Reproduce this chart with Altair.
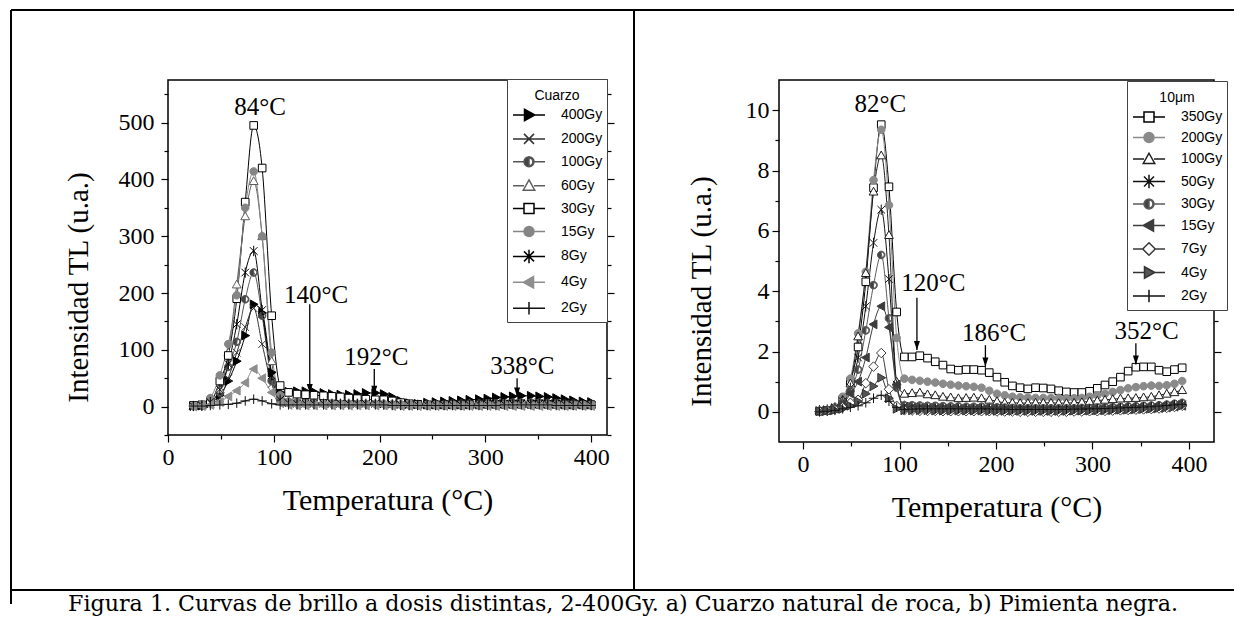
import altair as alt
import pandas as pd

SERIF = "Liberation Serif"
SANS = "Liberation Sans"
CAPFONT = "DejaVu Serif"

# ---------------- panel a) Cuarzo ----------------
T_left = [24, 32, 40, 49, 57, 65, 73, 81, 89, 98, 106, 114, 122, 130, 138, 147, 155, 163, 171, 179,
          187, 196, 204, 212, 220, 228, 236, 245, 253, 261, 269, 277, 285, 294, 302, 310, 318, 326,
          334, 343, 351, 359, 367, 375, 383, 392, 400]
series_left = ["400Gy", "200Gy", "100Gy", "60Gy", "30Gy", "15Gy", "8Gy", "4Gy", "2Gy"]
q400 = [1, 2, 6, 20, 45, 80, 125, 180, 165, 60, 25, 26, 27, 27, 26, 24, 22, 21, 21, 22,
        24, 24, 22, 17, 10, 6, 5, 7, 8, 9, 10, 11, 12, 13, 14, 16, 17, 18, 19, 19,
        18, 17, 15, 13, 11, 9, 8]
q200 = [1, 2, 5, 15, 50, 95, 140, 173, 110, 40, 12, 8, 7, 7, 6, 6, 6, 6, 6, 6,
        6, 6, 5, 5, 4, 4, 4, 4, 4, 4, 4, 5, 5, 5, 5, 6, 6, 6, 7, 7,
        7, 6, 6, 5, 5, 4, 4]
q100 = [1, 2, 6, 25, 70, 114, 189, 236, 160, 45, 12, 8, 7, 7, 7, 6, 6, 6, 6, 6,
        7, 7, 6, 5, 4, 4, 4, 4, 4, 4, 5, 5, 5, 5, 6, 6, 6, 7, 7, 7,
        7, 6, 6, 5, 5, 4, 4]
q60 = [1, 3, 8, 30, 95, 215, 335, 397, 300, 80, 20, 10, 8, 8, 7, 7, 7, 7, 7, 7,
       7, 7, 6, 5, 4, 4, 4, 4, 4, 4, 4, 4, 5, 5, 5, 5, 5, 6, 6, 6,
       6, 6, 5, 5, 4, 4, 4]
q30 = [2, 3, 8, 45, 90, 190, 360, 495, 420, 160, 37, 25, 22, 21, 20, 19, 18, 17, 15, 14,
       13, 12, 12, 10, 7, 5, 4, 3, 3, 3, 3, 3, 3, 3, 4, 4, 4, 4, 4, 4,
       4, 4, 4, 3, 3, 3, 3]
q15 = [1, 4, 15, 55, 110, 196, 350, 414, 300, 95, 20, 8, 6, 5, 5, 5, 5, 5, 5, 5,
       5, 5, 5, 4, 4, 4, 3, 3, 3, 3, 3, 3, 3, 3, 4, 4, 4, 4, 4, 4,
       4, 4, 4, 3, 3, 3, 3]
q8 = [1, 2, 8, 30, 75, 145, 236, 274, 170, 55, 12, 6, 5, 5, 5, 5, 5, 5, 5, 5,
      5, 5, 4, 4, 3, 3, 3, 3, 3, 3, 3, 3, 3, 4, 4, 4, 4, 5, 5, 5,
      5, 4, 4, 4, 3, 3, 3]
q4 = [0, 1, 3, 8, 18, 28, 42, 66, 50, 25, 6, 3, 2, 2, 2, 2, 2, 2, 2, 2,
      2, 2, 2, 1, 1, 1, 1, 1, 1, 1, 1, 1, 1, 1, 1, 1, 1, 1, 1, 1,
      1, 1, 1, 1, 1, 1, 1]
q2 = [1, 1, 2, 3, 4, 6, 10, 13, 10, 5, 3, 3, 3, 3, 3, 3, 3, 3, 3, 3,
      3, 3, 3, 2, 2, 2, 2, 2, 2, 2, 2, 2, 2, 2, 2, 2, 3, 3, 3, 3,
      3, 3, 2, 2, 2, 2, 2]
values_left = [q400, q200, q100, q60, q30, q15, q8, q4, q2]

ann_left_text = ["84°C", "140°C", "192°C", "338°C"]
ann_left_T = [87, 140, 197, 335]
ann_left_V = [527, 197, 88, 72]
arr_left_T = [134, 195, 330]
arr_left_from = [180, 66, 50]
arr_left_to = [24, 21, 18]

# ---------------- panel b) Pimienta negra ----------------
T_right = [17, 25, 33, 41, 49, 57, 65, 73, 81, 89, 97, 105, 113, 121, 129, 137, 145, 153, 161, 169,
           177, 185, 193, 201, 209, 217, 225, 233, 241, 249, 257, 265, 273, 281, 289, 297, 305, 313,
           321, 329, 337, 345, 353, 361, 369, 377, 385, 393]
series_right = ["350Gy", "200Gy", "100Gy", "50Gy", "30Gy", "15Gy", "7Gy", "4Gy", "2Gy"]
p350 = [0.02, 0.05, 0.12, 0.4, 1.0, 2.15, 4.31, 7.43, 9.52, 7.46, 3.31, 1.82, 1.82, 1.86, 1.78, 1.66,
        1.55, 1.42, 1.38, 1.40, 1.40, 1.38, 1.30, 1.15, 0.98, 0.86, 0.80, 0.76, 0.80, 0.79, 0.76, 0.70,
        0.66, 0.64, 0.64, 0.68, 0.78, 0.89, 1.00, 1.15, 1.35, 1.48, 1.49, 1.49, 1.38, 1.33, 1.40, 1.46]
p200 = [0.02, 0.05, 0.15, 0.5, 1.1, 2.6, 4.64, 7.68, 9.35, 6.85, 2.45, 1.10, 1.06, 1.03, 1.00, 0.97,
        0.93, 0.90, 0.87, 0.85, 0.83, 0.80, 0.70, 0.60, 0.55, 0.50, 0.48, 0.47, 0.46, 0.46, 0.46, 0.46,
        0.45, 0.45, 0.46, 0.50, 0.55, 0.60, 0.66, 0.72, 0.78, 0.82, 0.85, 0.87, 0.86, 0.88, 0.93, 1.02]
p100 = [0.05, 0.05, 0.1, 0.4, 0.94, 2.5, 4.6, 7.3, 8.5, 5.86, 1.0, 0.60, 0.62, 0.64, 0.58, 0.55,
        0.50, 0.48, 0.45, 0.46, 0.47, 0.45, 0.40, 0.35, 0.30, 0.30, 0.29, 0.29, 0.30, 0.30, 0.30, 0.29,
        0.29, 0.30, 0.32, 0.35, 0.37, 0.40, 0.42, 0.44, 0.45, 0.46, 0.48, 0.50, 0.55, 0.60, 0.65, 0.72]
p50 = [0.05, 0.08, 0.15, 0.35, 0.8, 1.8, 3.5, 5.6, 6.7, 4.4, 0.9, 0.20, 0.18, 0.17, 0.16, 0.15,
       0.14, 0.13, 0.12, 0.12, 0.12, 0.11, 0.10, 0.09, 0.08, 0.07, 0.06, 0.06, 0.06, 0.06, 0.06, 0.06,
       0.06, 0.07, 0.07, 0.08, 0.08, 0.09, 0.10, 0.10, 0.11, 0.12, 0.13, 0.14, 0.16, 0.18, 0.21, 0.25]
p30 = [0.03, 0.05, 0.1, 0.3, 0.7, 1.4, 2.7, 4.2, 5.2, 3.1, 0.8, 0.22, 0.22, 0.21, 0.20, 0.20,
       0.19, 0.18, 0.18, 0.17, 0.17, 0.17, 0.16, 0.15, 0.14, 0.13, 0.12, 0.12, 0.12, 0.12, 0.12, 0.12,
       0.12, 0.12, 0.13, 0.13, 0.14, 0.15, 0.16, 0.17, 0.18, 0.19, 0.20, 0.21, 0.22, 0.24, 0.27, 0.30]
p15 = [0.02, 0.05, 0.1, 0.25, 0.6, 1.0, 1.8, 2.9, 3.5, 2.8, 0.9, 0.15, 0.12, 0.11, 0.10, 0.10,
       0.09, 0.09, 0.08, 0.08, 0.08, 0.08, 0.07, 0.06, 0.05, 0.05, 0.05, 0.04, 0.04, 0.04, 0.04, 0.04,
       0.04, 0.05, 0.05, 0.05, 0.06, 0.06, 0.07, 0.07, 0.08, 0.09, 0.10, 0.11, 0.12, 0.14, 0.17, 0.20]
p7 = [0.02, 0.04, 0.08, 0.15, 0.3, 0.4, 0.95, 1.5, 1.95, 0.75, 0.2, 0.05, 0.04, 0.03, 0.03, 0.03,
      0.02, 0.02, 0.02, 0.02, 0.02, 0.02, 0.02, 0.01, 0.01, 0.01, 0.0, 0.0, 0.0, 0.0, 0.0, 0.0,
      0.0, 0.01, 0.01, 0.02, 0.02, 0.03, 0.04, 0.05, 0.06, 0.07, 0.08, 0.09, 0.11, 0.13, 0.16, 0.20]
p4 = [0.02, 0.04, 0.06, 0.1, 0.2, 0.35, 0.6, 0.85, 1.13, 0.45, 0.1, 0.05, 0.05, 0.05, 0.05, 0.04,
      0.04, 0.04, 0.04, 0.04, 0.04, 0.04, 0.03, 0.03, 0.03, 0.03, 0.03, 0.03, 0.03, 0.03, 0.03, 0.03,
      0.03, 0.04, 0.04, 0.04, 0.05, 0.05, 0.06, 0.07, 0.08, 0.09, 0.10, 0.11, 0.13, 0.15, 0.18, 0.21]
p2 = [0.0, 0.02, 0.05, 0.1, 0.15, 0.2, 0.3, 0.45, 0.55, 0.35, 0.15, 0.08, 0.09, 0.10, 0.10, 0.10,
      0.10, 0.10, 0.10, 0.10, 0.10, 0.10, 0.10, 0.09, 0.09, 0.08, 0.08, 0.08, 0.08, 0.08, 0.08, 0.08,
      0.08, 0.09, 0.09, 0.10, 0.10, 0.11, 0.12, 0.13, 0.14, 0.15, 0.16, 0.17, 0.19, 0.21, 0.23, 0.25]
values_right = [p350, p200, p100, p50, p30, p15, p7, p4, p2]

ann_right_text = ["82°C", "120°C", "186°C", "352°C"]
ann_right_T = [80, 135, 198, 356]
ann_right_V = [10.2, 4.28, 2.6, 2.69]
arr_right_T = [118, 189, 345]
arr_right_from = [3.78, 2.21, 2.27]
arr_right_to = [2.05, 1.5, 1.57]

caption = "Figura 1. Curvas de brillo a dosis distintas, 2-400Gy.  a) Cuarzo natural de roca, b) Pimienta negra."

# ---------------- marker shapes (styles) ----------------
SQ = "M-1,-1L1,-1L1,1L-1,1Z"
CIR = "M1,0A1,1,0,1,1,-1,0A1,1,0,1,1,1,0Z"
TUP = "M0,-1.15L1.15,0.9L-1.15,0.9Z"
TR = "M1.15,0L-0.9,-1.15L-0.9,1.15Z"
TL = "M-1.15,0L0.9,-1.15L0.9,1.15Z"
DIA = "M0,-1.25L1.25,0L0,1.25L-1.25,0Z"
CRS = "M-1,-1L1,1M-1,1L1,-1"
AST = "M-1,-1L1,1M-1,1L1,-1M0,-1.35L0,1.35"
PLS = "M-1.25,0L1.25,0M0,-1.25L0,1.25"
HALF = "M0,-1A1,1,0,0,0,0,1ZM0,-1A1,1,0,0,1,0,1L0,0.78A0.78,0.78,0,0,0,0,-0.78Z"

GAP = "M-3.2,0L-1,0M1,0L3.2,0"
THRU = "M-3.2,0L3.2,0"


def legend_path(p):
    if p in (CRS, AST, PLS):
        return THRU + p
    return GAP + p


shapes_left = [TR, CRS, HALF, TUP, SQ, CIR, AST, TL, PLS]
strokes_left = ["#000000", "#333333", "#555555", "#5e5e5e", "#000000", "#858585", "#000000", "#8e8e8e", "#111111"]
fills_left = ["#000000", "#333333", "#444444", "#ffffff", "#ffffff", "#858585", "#000000", "#8e8e8e", "#111111"]

shapes_right = [SQ, CIR, TUP, AST, HALF, TL, DIA, TR, PLS]
strokes_right = ["#000000", "#8a8a8a", "#1e1e1e", "#111111", "#5a5a5a", "#3c3c3c", "#3a3a3a", "#333333", "#111111"]
fills_right = ["#ffffff", "#8a8a8a", "#ffffff", "#111111", "#444444", "#3c3c3c", "#ffffff", "#555555", "#111111"]


def long_df(T, names, values):
    rows = []
    for n, vals in zip(names, values):
        for t, v in zip(T, vals):
            rows.append({"T": t, "V": v, "series": n})
    return pd.DataFrame(rows)


def cond(test, a, b):
    return {"condition": {"test": test, "value": a}, "value": b}


def panel(T, names, values, shapes, strokes, fills, ltitle, lx, ly, lrow,
          xdom, ydom, xvals, yvals, xmaj, ymaj, w, h,
          at, aT, aV, rT, rfrom, rto, ylabpad, ytx, yty, xty):
    df = long_df(T, names, values)
    xs = alt.Scale(domain=xdom, nice=False, zero=False)
    ys = alt.Scale(domain=ydom, nice=False, zero=False)
    xaxis = alt.Axis(values=xvals, title="Temperatura (°C)", grid=False, domain=False,
                     labelExpr=f"datum.value % {xmaj} === 0 ? datum.label : ''",
                     tickSize=cond(f"datum.value % {xmaj} === 0", 7, 4),
                     labelPadding=3, labelFlush=False,
                     titleFontSize=30, titleBaseline="middle", titleY=xty)
    yaxis = alt.Axis(values=yvals, title="Intensidad TL (u.a.)", grid=False, domain=False,
                     labelExpr=f"datum.value % {ymaj} === 0 ? datum.label : ''",
                     tickSize=cond(f"datum.value % {ymaj} === 0", 7, 4),
                     labelPadding=ylabpad, labelFlush=False,
                     titleFontSize=29, titleBaseline="middle", titleX=ytx, titleY=yty)
    yaxis_r = alt.Axis(values=yvals, orient="right", title="", labels=False, grid=False, domain=False,
                       tickSize=cond(f"datum.value % {ymaj} === 0", 7, 4))

    base = alt.Chart(df)
    sc_stroke = alt.Scale(domain=names, range=strokes)
    sc_fill = alt.Scale(domain=names, range=fills)

    lines = base.mark_line(interpolate="monotone", strokeWidth=1).encode(
        x=alt.X("T:Q", scale=xs, axis=xaxis),
        y=alt.Y("V:Q", scale=ys, axis=yaxis),
        stroke=alt.Stroke("series:N", scale=sc_stroke, legend=None),
        detail="series:N",
    )
    pts = base.mark_point(opacity=1, fillOpacity=1, size=58, strokeWidth=1).encode(
        x=alt.X("T:Q", scale=xs, axis=None),
        y=alt.Y("V:Q", scale=ys, axis=None),
        shape=alt.Shape("series:N", scale=alt.Scale(domain=names, range=shapes), legend=None),
        stroke=alt.Stroke("series:N", scale=sc_stroke, legend=None),
        fill=alt.Fill("series:N", scale=sc_fill, legend=None),
    )
    leg = alt.Legend(title=[" ", ltitle], orient="none", legendX=lx, legendY=ly, direction="vertical",
                     strokeColor="#444444", fillColor="white", padding=4, cornerRadius=0,
                     titleFont=SANS, titleFontSize=14, titleFontWeight="normal", titleColor="black",
                     titleAnchor="middle", titlePadding=5, titleLineHeight=6,
                     labelFont=SANS, labelFontSize=14, labelColor="black",
                     labelOffset=25, symbolOffset=11, rowPadding=lrow,
                     labelExpr="datum.label + '\u00a0'")
    legend_layer = base.transform_filter("false").mark_point(opacity=1, fillOpacity=1, size=100, strokeWidth=1).encode(
        shape=alt.Shape("series:N", scale=alt.Scale(domain=names, range=[legend_path(s) for s in shapes]), legend=leg),
        stroke=alt.Stroke("series:N", scale=sc_stroke, legend=leg),
        fill=alt.Fill("series:N", scale=sc_fill, legend=leg),
    )

    adf = pd.DataFrame({"label": at, "T": aT, "V": aV})
    texts = alt.Chart(adf).mark_text(font=SERIF, fontSize=25, color="black", baseline="middle", align="center").encode(
        x=alt.X("T:Q", scale=xs, axis=None), y=alt.Y("V:Q", scale=ys, axis=None), text="label:N")
    rdf = pd.DataFrame({"T": rT, "y1": rfrom, "y2": rto})
    rules = alt.Chart(rdf).mark_rule(color="black", strokeWidth=1.3).encode(
        x=alt.X("T:Q", scale=xs, axis=None),
        y=alt.Y("y1:Q", scale=ys, axis=yaxis_r), y2="y2:Q")
    heads = alt.Chart(rdf).mark_point(shape="M0,0L-1,-3L1,-3Z", filled=True, color="black", opacity=1, size=36).encode(
        x=alt.X("T:Q", scale=xs, axis=None), y=alt.Y("y2:Q", scale=ys, axis=None))

    layer = alt.layer(lines, pts, legend_layer, rules, heads, texts).resolve_scale(
        shape="independent", stroke="independent", fill="independent"
    ).resolve_axis(x="independent", y="independent").properties(width=w, height=h)
    return layer


left = panel(T_left, series_left, values_left, shapes_left, strokes_left, fills_left, "Cuarzo", 339, -1, 6.9,
             [0, 415], [-50, 575], list(range(0, 401, 50)), list(range(-50, 551, 50)), 100, 100, 439, 355,
             ann_left_text, ann_left_T, ann_left_V, arr_left_T, arr_left_from, arr_left_to,
             7, -90, 207, 65)
right = panel(T_right, series_right, values_right, shapes_right, strokes_right, fills_right, "10\u03bcm", 348, 1, 4.5,
              [-25, 426], [-1, 11], list(range(0, 401, 50)), list(range(0, 11, 1)), 100, 2, 435, 362,
              ann_right_text, ann_right_T, ann_right_V, arr_right_T, arr_right_from, arr_right_to,
              3, -78, 211, 65)

# frame decorations and caption (placed in pixel space of the left panel)
one = pd.DataFrame({"k": [0]})
top_line = alt.Chart(one).mark_rule(color="black", strokeWidth=2).encode(
    x=alt.value(-157), x2=alt.value(1066), y=alt.value(-70))
left_line = alt.Chart(one).mark_rule(color="black", strokeWidth=2).encode(
    x=alt.value(-157), y=alt.value(-70), y2=alt.value(524))
mid_line = alt.Chart(one).mark_rule(color="black", strokeWidth=2).encode(
    x=alt.value(466), y=alt.value(-70), y2=alt.value(510))
cap_line = alt.Chart(one).mark_rule(color="black", strokeWidth=2).encode(
    x=alt.value(-157), x2=alt.value(1066), y=alt.value(510))
cap_text = alt.Chart(one).mark_text(font=CAPFONT, fontSize=22.2, color="black", align="center", baseline="middle").encode(
    x=alt.value(455), y=alt.value(524), text=alt.value(caption))

left_full = alt.layer(left, top_line, left_line, mid_line, cap_line, cap_text)

chart = alt.hconcat(left_full, right, spacing=172, bounds="flush").properties(
    padding={"left": 1, "top": 0, "right": 0, "bottom": 0}
).configure(background="white").configure_view(stroke="black", strokeWidth=1.5).configure_axis(
    labelFont=SERIF, labelFontSize=24, titleFont=SERIF, titleFontWeight="normal",
    labelColor="black", titleColor="black", tickColor="black", tickWidth=1.2
)

chart.save("out.html", embed_options={"renderer": "svg", "actions": False})
